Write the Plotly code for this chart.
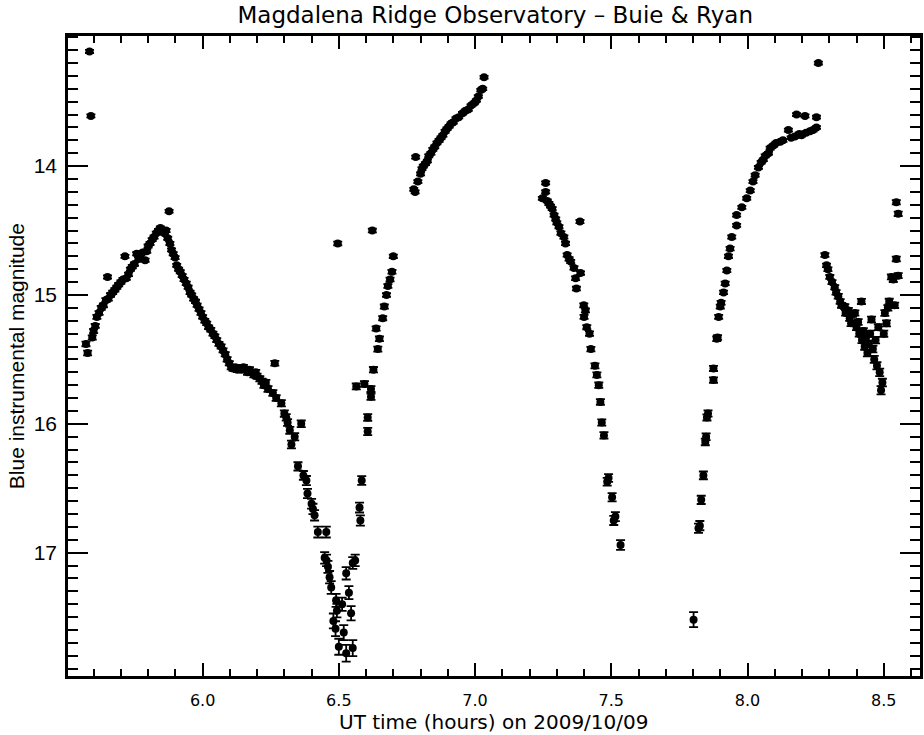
import plotly.graph_objects as go

# ---- data (UT hours, blue magnitude, 1-sigma error) ----
t1 = [5.585,5.590,5.572,5.578,5.595,5.600,5.606,5.612,5.620,5.628,5.636,5.645,5.651,5.654,5.662,5.670,5.678,5.685,5.692,5.700,5.708,5.715,5.720,5.728,5.735,5.742,5.750,5.758,5.765,5.772,5.780,5.789,5.795,5.800,5.807,5.815,5.822,5.830,5.838,5.845,5.852,5.860,5.866,5.877]
m1 = [13.11,13.61,15.38,15.45,15.33,15.28,15.24,15.17,15.14,15.10,15.08,15.04,14.86,15.03,15.00,14.98,14.96,14.94,14.92,14.90,14.88,14.70,14.87,14.84,14.80,14.78,14.76,14.68,14.72,14.70,14.67,14.73,14.66,14.62,14.60,14.57,14.55,14.52,14.50,14.48,14.50,14.52,14.50,14.35]
e1 = [0.012,0.012,0.018,0.018,0.016,0.016,0.015,0.015,0.015,0.015,0.015,0.015,0.013,0.014,0.014,0.014,0.014,0.013,0.013,0.013,0.013,0.012,0.013,0.013,0.013,0.013,0.013,0.012,0.012,0.012,0.012,0.012,0.012,0.012,0.012,0.012,0.012,0.012,0.012,0.012,0.012,0.012,0.012,0.011]

t2 = [5.872,5.880,5.886,5.892,5.899,5.905,5.912,5.918,5.925,5.932,5.940,5.947,5.954,5.960,5.967,5.974,5.980,5.987,5.994,6.000,6.008,6.015,6.022,6.030,6.038,6.045,6.052,6.060,6.068,6.075,6.083,6.090,6.098,6.105,6.112,6.120,6.128,6.135,6.142,6.150,6.158,6.165,6.172,6.180,6.188,6.195,6.200,6.210,6.218,6.225,6.232,6.240,6.265]
m2 = [14.56,14.60,14.65,14.68,14.71,14.77,14.80,14.82,14.85,14.88,14.91,14.94,14.98,15.00,15.03,15.05,15.08,15.11,15.14,15.17,15.20,15.22,15.25,15.27,15.30,15.32,15.35,15.38,15.40,15.43,15.46,15.50,15.53,15.56,15.57,15.56,15.58,15.57,15.58,15.56,15.58,15.60,15.58,15.60,15.62,15.60,15.63,15.65,15.67,15.70,15.68,15.73,15.53]
e2 = [0.012,0.012,0.012,0.012,0.012,0.012,0.012,0.012,0.012,0.013,0.013,0.013,0.013,0.013,0.013,0.013,0.013,0.013,0.014,0.014,0.014,0.014,0.014,0.015,0.015,0.015,0.015,0.015,0.016,0.016,0.016,0.017,0.017,0.018,0.018,0.018,0.018,0.018,0.018,0.018,0.018,0.019,0.019,0.019,0.019,0.019,0.020,0.020,0.020,0.021,0.021,0.022,0.018]

t3 = [6.258,6.270,6.289,6.300,6.307,6.312,6.320,6.326,6.338,6.350,6.362,6.370,6.381,6.385,6.400,6.405,6.411,6.423,6.454,6.448,6.455,6.460,6.466,6.472,6.480,6.490,6.493,6.488,6.500,6.512,6.518,6.527,6.537,6.527,6.545,6.551,6.551,6.560,6.496]
m3 = [15.76,15.80,15.84,15.92,15.95,15.99,16.05,16.16,16.10,16.33,16.00,16.40,16.44,16.54,16.62,16.66,16.71,16.84,16.84,17.04,17.06,17.11,17.19,17.27,17.53,17.37,17.45,17.59,17.73,17.40,17.62,17.78,17.31,17.16,17.47,17.74,17.08,17.06,14.60]
e3 = [0.022,0.022,0.024,0.025,0.025,0.026,0.027,0.030,0.028,0.032,0.026,0.034,0.035,0.036,0.038,0.040,0.040,0.042,0.042,0.045,0.045,0.046,0.048,0.050,0.058,0.050,0.052,0.058,0.062,0.052,0.058,0.065,0.050,0.048,0.055,0.062,0.046,0.045,0.014]

t4 = [6.576,6.579,6.584,6.606,6.606,6.618,6.618,6.594,6.564,6.627,6.643,6.649,6.637,6.661,6.667,6.675,6.680,6.688,6.695,6.700,6.623]
m4 = [16.65,16.75,16.44,16.06,15.95,15.79,15.73,15.69,15.71,15.58,15.42,15.34,15.26,15.18,15.09,15.00,14.93,14.88,14.82,14.70,14.50]
e4 = [0.038,0.040,0.034,0.028,0.026,0.024,0.023,0.022,0.023,0.021,0.019,0.018,0.017,0.016,0.016,0.015,0.015,0.014,0.014,0.013,0.014]

t5 = [6.775,6.780,6.782,6.790,6.800,6.805,6.810,6.818,6.825,6.830,6.838,6.845,6.852,6.860,6.868,6.875,6.882,6.890,6.897,6.905,6.912,6.920,6.930,6.940,6.954,6.965,6.975,6.985,6.997,7.005,7.012,7.021,7.028,7.033]
m5 = [14.18,14.20,13.93,14.12,14.06,14.02,14.00,13.98,13.96,13.92,13.90,13.87,13.85,13.82,13.80,13.78,13.76,13.73,13.71,13.69,13.67,13.66,13.63,13.62,13.59,13.57,13.56,13.53,13.51,13.49,13.46,13.41,13.40,13.31]
e5 = [0.012,0.012,0.011,0.011,0.011,0.011,0.011,0.011,0.011,0.011,0.011,0.011,0.011,0.011,0.011,0.011,0.011,0.011,0.011,0.011,0.010,0.010,0.010,0.010,0.010,0.010,0.010,0.010,0.010,0.010,0.010,0.010,0.010,0.010]

t6 = [7.247,7.259,7.259,7.265,7.271,7.277,7.283,7.290,7.296,7.300,7.308,7.315,7.326,7.332,7.338,7.345,7.351,7.363,7.369,7.372,7.385,7.387,7.399,7.405,7.400,7.410,7.420,7.425,7.440,7.447,7.454,7.460,7.465,7.473,7.485,7.490,7.503,7.509,7.515,7.534]
m6 = [14.25,14.13,14.20,14.27,14.29,14.31,14.33,14.38,14.41,14.44,14.47,14.52,14.55,14.60,14.69,14.72,14.74,14.79,14.87,14.95,14.43,14.83,15.08,15.12,15.17,15.25,15.30,15.42,15.55,15.62,15.70,15.83,15.99,16.09,16.45,16.42,16.57,16.75,16.72,16.94]
e6 = [0.012,0.011,0.012,0.012,0.012,0.012,0.012,0.012,0.012,0.012,0.012,0.013,0.013,0.013,0.013,0.013,0.013,0.013,0.014,0.014,0.012,0.013,0.015,0.015,0.016,0.016,0.017,0.018,0.019,0.020,0.021,0.022,0.024,0.025,0.030,0.030,0.032,0.035,0.035,0.038]

t7 = [7.802,7.820,7.825,7.830,7.838,7.845,7.848,7.851,7.855,7.875,7.875,7.887,7.890,7.894,7.900,7.903,7.912,7.918,7.924,7.930,7.936,7.942,7.960,7.960,7.979,7.997,8.010,8.020,8.028,8.040,8.050,8.058,8.065,8.077,8.083,8.095,8.105,8.120,8.130,8.150,8.160,8.174,8.180,8.190,8.198,8.211,8.215,8.229,8.240,8.253,8.253,8.260]
m7 = [17.52,16.81,16.79,16.59,16.40,16.14,16.10,15.95,15.92,15.66,15.57,15.34,15.33,15.17,15.09,15.06,14.98,14.91,14.81,14.70,14.64,14.55,14.46,14.38,14.32,14.25,14.19,14.12,14.07,14.01,13.97,13.95,13.92,13.90,13.86,13.84,13.82,13.81,13.80,13.72,13.78,13.77,13.60,13.75,13.76,13.61,13.74,13.73,13.72,13.62,13.70,13.20]
e7 = [0.058,0.036,0.036,0.032,0.030,0.026,0.026,0.024,0.024,0.021,0.020,0.018,0.018,0.016,0.015,0.015,0.014,0.014,0.013,0.013,0.013,0.012,0.012,0.012,0.012,0.011,0.011,0.011,0.011,0.011,0.011,0.011,0.011,0.011,0.011,0.011,0.011,0.011,0.011,0.011,0.011,0.011,0.011,0.011,0.011,0.011,0.011,0.011,0.011,0.011,0.011,0.011]

t8 = [8.284,8.290,8.295,8.302,8.310,8.320,8.325,8.333,8.340,8.345,8.357,8.360,8.370,8.375,8.380,8.385,8.394,8.400,8.406,8.410,8.418,8.420,8.425,8.430,8.435,8.440,8.445,8.450,8.455,8.460,8.465,8.470,8.475,8.480,8.485,8.490,8.495,8.500,8.504,8.510,8.515,8.520,8.528,8.535,8.540,8.546,8.553,8.546,8.553]
m8 = [14.69,14.77,14.80,14.86,14.90,14.94,14.98,15.01,15.05,15.08,15.09,15.14,15.12,15.18,15.22,15.15,15.14,15.25,15.21,15.30,15.05,15.35,15.28,15.40,15.33,15.45,15.38,15.30,15.19,15.42,15.50,15.35,15.55,15.25,15.60,15.74,15.68,15.30,15.14,15.22,15.10,15.05,14.86,14.88,15.08,14.72,14.85,14.28,14.37]
e8 = [0.014,0.014,0.015,0.015,0.016,0.016,0.017,0.018,0.018,0.019,0.019,0.020,0.020,0.021,0.021,0.020,0.020,0.022,0.022,0.023,0.020,0.024,0.023,0.025,0.024,0.026,0.025,0.024,0.022,0.026,0.027,0.025,0.028,0.023,0.029,0.032,0.030,0.024,0.022,0.023,0.022,0.021,0.019,0.019,0.021,0.018,0.019,0.016,0.017]

x_ticks = [6.0, 6.5, 7.0, 7.5, 8.0, 8.5]
x_tick_text = ["6.0", "6.5", "7.0", "7.5", "8.0", "8.5"]
y_ticks = [14, 15, 16, 17]
y_tick_text = ["14", "15", "16", "17"]

segments = [(t1, m1, e1), (t2, m2, e2), (t3, m3, e3), (t4, m4, e4),
            (t5, m5, e5), (t6, m6, e6), (t7, m7, e7), (t8, m8, e8)]

fig = go.Figure()
for t, m, e in segments:
    fig.add_trace(go.Scatter(
        x=t, y=m, mode="markers",
        marker=dict(symbol="circle", size=8, color="black"),
        error_y=dict(type="data", array=e, visible=True, color="black",
                     thickness=1.8, width=4.5),
        showlegend=False, hoverinfo="x+y"))

HERSHEY = "DejaVu Sans"
fig.update_layout(
    width=924, height=735,
    margin=dict(l=68, r=1, t=36, b=59),
    paper_bgcolor="white", plot_bgcolor="white",
    title=dict(text="Magdalena Ridge Observatory – Buie & Ryan",
               x=0.536, xref="container", xanchor="center",
               y=1 - 15 / 735, yref="container", yanchor="middle",
               font=dict(family=HERSHEY, size=23, color="black")),
    showlegend=False,
)
fig.update_xaxes(
    range=[5.506, 8.633], showgrid=False, zeroline=False,
    showline=True, linecolor="black", linewidth=2.5, mirror="ticks",
    tickmode="array", tickvals=x_ticks, ticktext=x_tick_text,
    ticks="inside", ticklen=13, tickwidth=2, tickcolor="black",
    ticklabelstandoff=8,
    minor=dict(ticks="inside", ticklen=7, tickwidth=2, tickcolor="black", dtick=0.1, tick0=6.0),
    tickfont=dict(family=HERSHEY, size=16, color="black"),
)
fig.update_yaxes(
    range=[17.957, 12.99], showgrid=False, zeroline=False,
    showline=True, linecolor="black", linewidth=2.5, mirror="ticks",
    tickmode="array", tickvals=y_ticks, ticktext=y_tick_text,
    ticks="inside", ticklen=20, tickwidth=2, tickcolor="black",
    ticklabelstandoff=4,
    minor=dict(ticks="inside", ticklen=10, tickwidth=2, tickcolor="black", dtick=0.1, tick0=14),
    tickfont=dict(family="Liberation Sans", size=21, color="black"),
)
fig.add_annotation(text="UT time (hours) on 2009/10/09", xref="paper", yref="paper",
                   x=0.5, y=(676 - 722) / 640, xanchor="center", yanchor="middle",
                   showarrow=False, font=dict(family=HERSHEY, size=20, color="black"))
fig.add_annotation(text="Blue instrumental magnitude", xref="paper", yref="paper",
                   x=(16 - 68) / 855, y=(676 - 356) / 640, xanchor="center", yanchor="middle",
                   textangle=-90, showarrow=False,
                   font=dict(family="Liberation Sans", size=21, color="black"))

fig.write_html("out.html")
